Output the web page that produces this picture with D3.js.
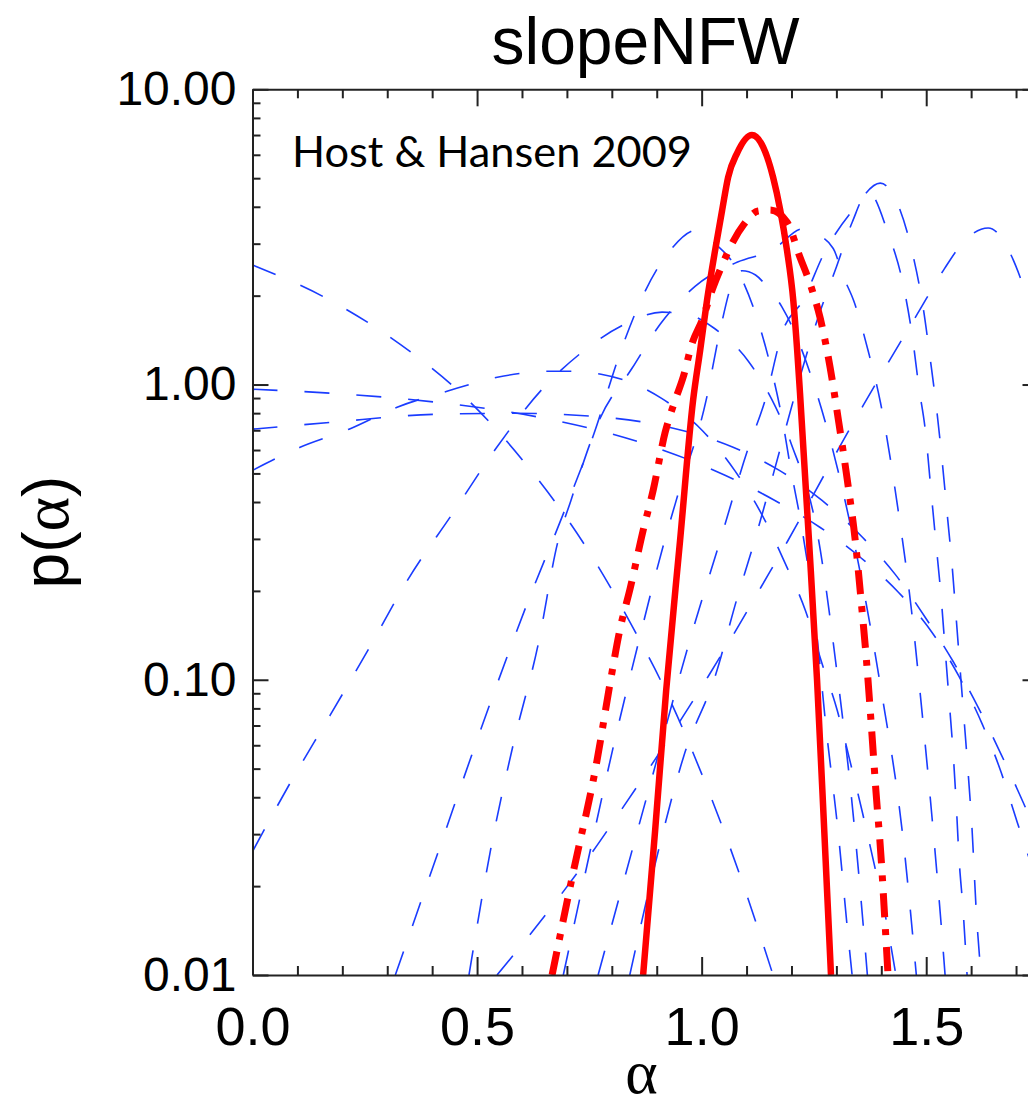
<!DOCTYPE html>
<html><head><meta charset="utf-8">
<script src="https://cdn.jsdelivr.net/npm/d3@7"></script>
<style>body{margin:0;background:#fff}svg{display:block}</style>
</head><body>
<svg id="chart" width="1028" height="1108"></svg>
<script>
// ---------- data (alpha, p(alpha)) ----------
const titleText = "slopeNFW";
const noteText = "Host & Hansen 2009";
const xTicks = [0, 0.5, 1.0, 1.5];
const xTickLabels = ["0.0", "0.5", "1.0", "1.5"];
const xMinorTicks = [0.1,0.2,0.3,0.4,0.6,0.7,0.8,0.9,1.1,1.2,1.3,1.4,1.6,1.7];
const yTicks = [10, 1, 0.1, 0.01];
const yTickLabels = ["10.00", "1.00", "0.10", "0.01"];

const blueK = [[0,2.54],[0.159,1.98],[0.355,1.28],[0.447,0.987],[0.605,0.546],[0.743,0.281],[0.859,0.139],[0.908,0.1],[1.006,0.0456],[1.088,0.0212],[1.159,0.01]];
const blueA = [[0,0.964],[0.177,0.934],[0.409,0.871],[0.638,0.775],[0.863,0.637],[1.052,0.493],[1.159,0.408],[1.264,0.328],[1.353,0.26],[1.438,0.198],[1.513,0.1446],[1.573,0.1026],[1.625,0.0706],[1.667,0.0485],[1.703,0.0328],[1.75,0.020]];
const blueB = [[0,0.706],[0.177,0.745],[0.409,0.793],[0.582,0.799],[0.756,0.781],[0.872,0.745],[0.955,0.70],[1.07,0.613],[1.173,0.512],[1.268,0.405],[1.358,0.304],[1.431,0.2275],[1.498,0.1626],[1.56,0.1153],[1.616,0.0805],[1.667,0.0558],[1.716,0.0384],[1.75,0.029]];
const blueC = [[0,0.512],[0.106,0.613],[0.215,0.706],[0.322,0.838],[0.433,0.949],[0.545,1.058],[0.658,1.109],[0.716,1.109],[0.776,1.084],[0.829,1.034],[0.91,0.899],[1.003,0.695],[1.075,0.508],[1.135,0.3605],[1.186,0.248],[1.231,0.1717],[1.268,0.1136],[1.302,0.0787],[1.331,0.0525],[1.358,0.0355],[1.384,0.0238],[1.409,0.0159],[1.433,0.0099]];
const blueD = [[0,0.0262],[0.0835,0.0446],[0.1726,0.0757],[0.2595,0.1278],[0.3463,0.2189],[0.4443,0.3637],[0.5423,0.6083],[0.647,0.972],[0.7339,1.288],[0.8296,1.603],[0.912,1.759],[0.974,1.718],[1.028,1.551],[1.104,1.199],[1.157,0.885],[1.199,0.633],[1.26,0.3],[1.30,0.11],[1.335,0.038],[1.351,0.021],[1.369,0.01]];
const blueE = [[0.318,0.01],[0.413,0.026],[0.509,0.0684],[0.609,0.177],[0.696,0.378],[0.76,0.68],[0.82,1.3],[0.87,2.01],[0.93,2.85],[0.99,3.34],[1.03,3.0],[1.077,2.48],[1.121,1.718],[1.153,1.162],[1.179,0.769],[1.199,0.512],[1.22,0.347],[1.253,0.159],[1.277,0.0689],[1.304,0.0304],[1.326,0.0136],[1.335,0.01]];
const blueF = [[0.482,0.01],[0.531,0.027],[0.58,0.0599],[0.636,0.1317],[0.68,0.294],[0.709,0.405],[0.774,0.769],[0.845,1.135],[0.908,1.603],[0.986,2.155],[1.08,2.6],[1.157,2.85],[1.226,3.37],[1.25,3.26],[1.293,2.89],[1.315,2.33],[1.339,1.914],[1.371,1.296],[1.398,0.871],[1.436,0.389],[1.467,0.173],[1.491,0.0769],[1.513,0.0341],[1.533,0.015],[1.542,0.01]];
const blueG = [[0.692,0.01],[0.752,0.0264],[0.803,0.059],[0.859,0.133],[0.916,0.29],[0.948,0.428],[1.01,0.885],[1.04,1.5],[1.07,2.25],[1.09,2.43],[1.12,2.35],[1.146,2.14],[1.179,1.83],[1.25,1.0],[1.32,0.4],[1.398,0.0957],[1.449,0.0285],[1.478,0.01]];
const blueV = [[0.7695,0.01],[0.8764,0.0394],[0.9855,0.1567],[1.0367,0.281],[1.1036,0.608],[1.1414,0.886],[1.1815,1.529],[1.226,1.932],[1.273,2.79],[1.337,3.90],[1.3976,4.81],[1.4376,4.05],[1.471,2.72],[1.493,1.83],[1.509,1.219],[1.524,0.805],[1.536,0.541],[1.547,0.3605],[1.558,0.240],[1.567,0.160],[1.576,0.1059],[1.585,0.0711],[1.594,0.047],[1.602,0.0313],[1.611,0.0169],[1.622,0.01]];
const blueW = [[0.84,0.01],[0.90,0.025],[0.96,0.055],[1.032,0.105],[1.079,0.189],[1.113,0.279],[1.16,0.5],[1.21,0.95],[1.26,1.7],[1.30,2.5],[1.335,3.54],[1.371,4.49],[1.415,3.26],[1.449,2.17],[1.469,1.458],[1.484,0.972],[1.498,0.70],[1.511,0.4316],[1.522,0.2877],[1.533,0.1919],[1.542,0.1277],[1.551,0.0851],[1.560,0.0563],[1.567,0.0375],[1.573,0.025],[1.582,0.01665],[1.591,0.01]];
const blueS = [[0.5445,0.01],[0.616,0.0136],[0.689,0.0189],[0.756,0.026],[0.823,0.0366],[0.95,0.0717],[1.0145,0.1026],[1.075,0.1458],[1.133,0.207],[1.191,0.294],[1.248,0.421],[1.309,0.622],[1.36,0.851],[1.42,1.219],[1.48,1.731],[1.54,2.46],[1.587,3.09],[1.638,3.39],[1.694,2.64],[1.714,2.2],[1.75,1.45]];
const redSolid = [[0.8697,0.01],[0.8964,0.0308],[0.921,0.092],[0.952,0.2966],[0.981,0.885],[0.9967,1.307],[1.012,1.93],[1.03,2.85],[1.0457,3.90],[1.059,5.04],[1.079,6.08],[1.112,7.0],[1.137,6.37],[1.159,5.04],[1.175,3.9],[1.19,2.85],[1.204,1.93],[1.2127,1.307],[1.219,0.935],[1.239,0.2966],[1.257,0.0994],[1.273,0.0308],[1.288,0.01]];
const redDashDot = [[0.667,0.01],[0.7116,0.0214],[0.767,0.0532],[0.796,0.0971],[0.8185,0.149],[0.8408,0.2037],[0.8697,0.3204],[0.892,0.438],[0.9187,0.688],[0.941,0.885],[0.9588,1.058],[0.9788,1.38],[1.001,1.652],[1.0256,2.137],[1.0457,2.54],[1.0635,2.92],[1.0947,3.50],[1.1258,3.87],[1.1526,3.9],[1.19,3.55],[1.219,2.70],[1.244,2.137],[1.264,1.678],[1.286,1.144],[1.3046,0.757],[1.3244,0.474],[1.342,0.2966],[1.355,0.1857],[1.367,0.1162],[1.377,0.0728],[1.388,0.0421],[1.400,0.0244],[1.408,0.01528],[1.415,0.01]];

const blueCurves = [blueK, blueA, blueB, blueC, blueD, blueE, blueF, blueG, blueV, blueW, blueS];

// ---------- layout ----------
const L = 252.5, R = 1038.5, T = 89.3, B = 975;
const svg = d3.select("#chart");
const x = d3.scaleLinear().domain([0, 1.75]).range([L, R]);
const y = d3.scaleLog().domain([0.01, 10]).range([B, T]);

svg.append("defs").append("clipPath").attr("id", "plotclip")
  .append("rect").attr("x", L).attr("y", T).attr("width", R - L).attr("height", B - T);

const line = d3.line().x(d => x(d[0])).y(d => y(d[1])).curve(d3.curveMonotoneX);
const g = svg.append("g").attr("clip-path", "url(#plotclip)");

g.selectAll("path.blue").data(blueCurves).join("path")
  .attr("class", "blue").attr("d", line)
  .attr("fill", "none").attr("stroke", "#1a3cff").attr("stroke-width", 1.6)
  .attr("stroke-dasharray", "25,27");

g.append("path").datum(redDashDot).attr("d", line)
  .attr("fill", "none").attr("stroke", "#ff0000").attr("stroke-width", 7)
  .attr("stroke-dasharray", "24,12,6,12");
g.append("path").datum(redSolid).attr("d", line)
  .attr("fill", "none").attr("stroke", "#ff0000").attr("stroke-width", 6.5)
  .attr("stroke-linejoin", "round");

// ---------- axes ----------
const yMinor = [];
[0.01, 0.1, 1].forEach(d => { for (let k = 2; k <= 9; k++) yMinor.push(k * d); });
const axisColor = "#222";
function styleAxis(sel) {
  sel.selectAll("path.domain").attr("stroke", axisColor).attr("stroke-width", 2);
  sel.selectAll(".tick line").attr("stroke", axisColor).attr("stroke-width", 2);
}
const fontNum = "'Liberation Sans', Arial, Helvetica, sans-serif";
const fontGreek = "'Liberation Serif', 'DejaVu Serif', serif";

// bottom
const gb = svg.append("g").attr("transform", `translate(0,${B})`)
  .call(d3.axisBottom(x).tickValues(xTicks).tickSizeInner(-18).tickSizeOuter(0)
    .tickFormat((d, i) => xTickLabels[i]).tickPadding(0));
gb.selectAll("text").attr("dy", null).attr("y", 70)
  .attr("font-family", fontNum).attr("font-size", 54).attr("fill", "#000");
styleAxis(gb);
const gbm = svg.append("g").attr("transform", `translate(0,${B})`)
  .call(d3.axisBottom(x).tickValues(xMinorTicks).tickSizeInner(-9).tickSizeOuter(0).tickFormat(""));
styleAxis(gbm); gbm.select("path.domain").remove();
// top
const gt = svg.append("g").attr("transform", `translate(0,${T})`)
  .call(d3.axisTop(x).tickValues(xTicks).tickSizeInner(-17).tickSizeOuter(0).tickFormat(""));
styleAxis(gt);
const gtm = svg.append("g").attr("transform", `translate(0,${T})`)
  .call(d3.axisTop(x).tickValues(xMinorTicks).tickSizeInner(-9).tickSizeOuter(0).tickFormat(""));
styleAxis(gtm); gtm.select("path.domain").remove();
// left
const gl = svg.append("g").attr("transform", `translate(${L},0)`)
  .call(d3.axisLeft(y).tickValues(yTicks).tickSizeInner(-16).tickSizeOuter(0)
    .tickFormat((d, i) => yTickLabels[i]).tickPadding(16));
gl.selectAll("text").attr("font-family", fontNum).attr("font-size", 48).attr("fill", "#000");
styleAxis(gl);
const glm = svg.append("g").attr("transform", `translate(${L},0)`)
  .call(d3.axisLeft(y).tickValues(yMinor).tickSizeInner(-8).tickSizeOuter(0).tickFormat(""));
styleAxis(glm); glm.select("path.domain").remove();
// right
const gr = svg.append("g").attr("transform", `translate(${R},0)`)
  .call(d3.axisRight(y).tickValues(yTicks).tickSizeInner(-16).tickSizeOuter(0).tickFormat(""));
styleAxis(gr);
const grm = svg.append("g").attr("transform", `translate(${R},0)`)
  .call(d3.axisRight(y).tickValues(yMinor).tickSizeInner(-8).tickSizeOuter(0).tickFormat(""));
styleAxis(grm); grm.select("path.domain").remove();

// ---------- text ----------
svg.append("text").attr("x", (L + R) / 2).attr("y", 64).attr("text-anchor", "middle")
  .attr("font-family", fontNum).attr("font-size", 66).attr("fill", "#000").text(titleText);

svg.append("text").attr("x", 292).attr("y", 167)
  .attr("font-family", "Lato, 'Open Sans', sans-serif").attr("font-size", 42).attr("fill", "#000")
  .attr("textLength", 400).attr("lengthAdjust", "spacingAndGlyphs").text(noteText);

svg.append("text").attr("x", (L + R) / 2 - 4).attr("y", 1093).attr("text-anchor", "middle")
  .attr("font-family", fontGreek).attr("font-size", 62).attr("fill", "#000")
  .text("α");

const yl = svg.append("text").attr("transform", `translate(68,532) rotate(-90)`).attr("text-anchor", "middle")
  .attr("font-family", fontNum).attr("font-size", 64).attr("fill", "#000");
yl.append("tspan").text("p(");
yl.append("tspan").attr("font-family", fontGreek).attr("font-size", 66).text("α");
yl.append("tspan").text(")");
</script>
</body></html>
